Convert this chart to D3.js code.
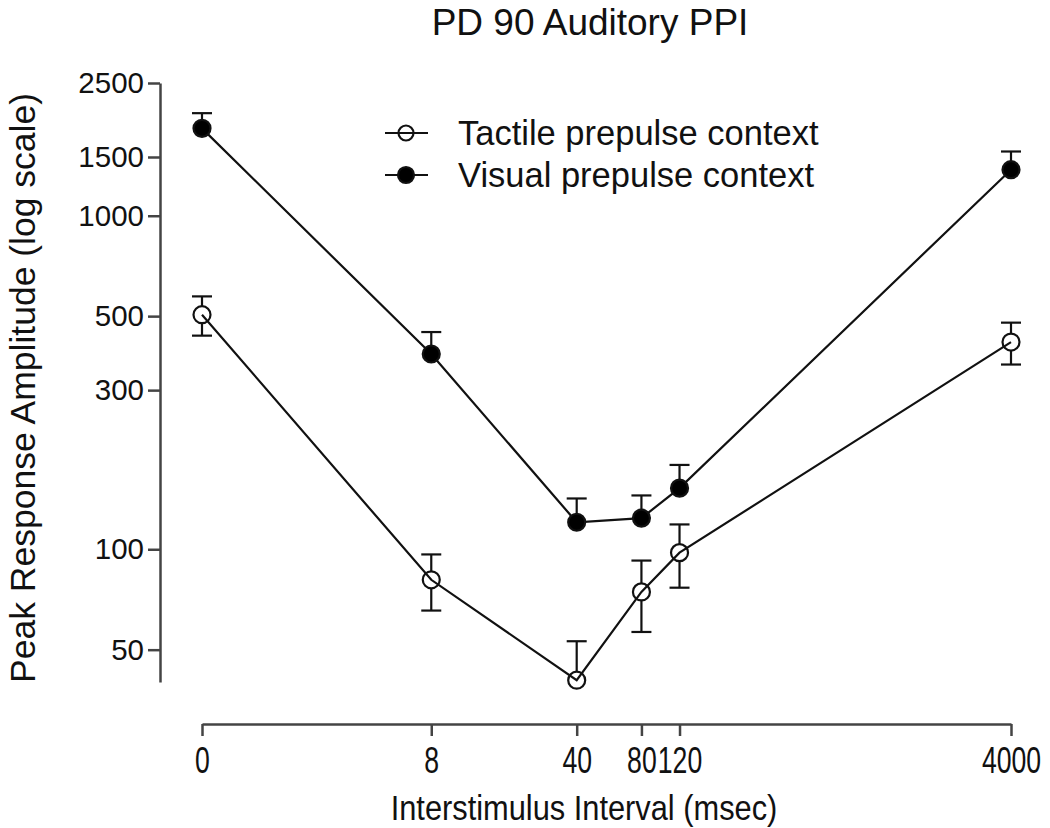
<!DOCTYPE html>
<html>
<head>
<meta charset="utf-8">
<script src="https://cdn.jsdelivr.net/npm/d3@7"></script>
<style>
  html, body { margin: 0; padding: 0; background: #fff; }
  svg { display: block; font-family: "Liberation Sans", Arial, sans-serif; }
</style>
</head>
<body>
<svg id="chart" width="1050" height="828"></svg>
<script>
// ---- data ----
const intervals = [0, 8, 40, 80, 120, 4000];
const xTickLabels = ["0", "8", "40", "80", "120", "4000"];
const yTickValues = [50, 100, 300, 500, 1000, 1500, 2500];
const tactileMean = [505, 81, 40.5, 74.5, 97.7, 418];
const tactileSEM  = [68, 15.5, 12.5, 18, 21, 60];
const visualMean  = [1828, 385, 120.5, 124, 152.5, 1374];
const visualSEM   = [202, 63, 21.5, 21, 26.5, 184];
const seriesNames = ["Tactile prepulse context", "Visual prepulse context"];

// ---- layout ----
const svg = d3.select("#chart");
const yAxisX = 160, xAxisY = 724;
const x = d3.scaleSymlog().constant(0.78).domain([0, 4000]).range([202, 1011]);
const y = d3.scaleLog().domain([40, 2500]).range([682, 83]).clamp(true);
const r = 8.5, cap = 10;

// title
svg.append("text").attr("x", 590).attr("y", 35).attr("text-anchor", "middle")
  .attr("font-size", 37).attr("fill", "#111").text("PD 90 Auditory PPI");

// y axis
const yAxis = svg.append("g").attr("transform", `translate(${yAxisX},0)`)
  .call(d3.axisLeft(y).tickValues(yTickValues).tickFormat(d3.format("d")).tickSize(12).tickSizeOuter(0).tickPadding(4));
yAxis.selectAll("text").attr("font-size", 29.5).attr("fill", "#111");
yAxis.selectAll("line,path").attr("stroke", "#444").attr("stroke-width", 2.5);

// x axis (condensed labels)
const xAxis = svg.append("g").attr("transform", `translate(0,${xAxisY})`)
  .call(d3.axisBottom(x).tickValues(intervals).tickFormat((d, i) => xTickLabels[i]).tickSize(12).tickSizeOuter(0).tickPadding(11));
xAxis.selectAll("text").attr("font-size", 37).attr("fill", "#111")
  .attr("transform", "scale(0.72,1)");
xAxis.selectAll("line,path").attr("stroke", "#444").attr("stroke-width", 2.5);

// axis titles
svg.append("text").attr("transform", "translate(584,820) scale(0.88,1)").attr("text-anchor", "middle")
  .attr("font-size", 35).attr("fill", "#111").text("Interstimulus Interval (msec)");
svg.append("text").attr("transform", "translate(35,388) rotate(-90)").attr("text-anchor", "middle")
  .attr("font-size", 35.5).attr("fill", "#111").text("Peak Response Amplitude (log scale)");

// series
const series = [
  { mean: tactileMean, sem: tactileSEM, filled: false, lower: true },
  { mean: visualMean, sem: visualSEM, filled: true, lower: false }
];
const line = d3.line().x(d => x(d.x)).y(d => y(d.y));

series.forEach(s => {
  const pts = intervals.map((iv, i) => ({ x: iv, y: s.mean[i], e: s.sem[i] }));
  const g = svg.append("g");
  g.append("path").datum(pts).attr("d", line).attr("fill", "none")
    .attr("stroke", "#111").attr("stroke-width", 2.2);
  pts.forEach(p => {
    const cx = x(p.x), cy = y(p.y), yt = y(p.y + p.e);
    if (cy - yt > r) {
      g.append("line").attr("x1", cx).attr("x2", cx).attr("y1", cy - r).attr("y2", yt)
        .attr("stroke", "#111").attr("stroke-width", 2.2);
      g.append("line").attr("x1", cx - cap).attr("x2", cx + cap).attr("y1", yt).attr("y2", yt)
        .attr("stroke", "#111").attr("stroke-width", 2.2);
    }
    if (s.lower && p.y - p.e > 40) {
      const yb = y(p.y - p.e);
      if (yb - cy > r) {
        g.append("line").attr("x1", cx).attr("x2", cx).attr("y1", cy + r).attr("y2", yb)
          .attr("stroke", "#111").attr("stroke-width", 2.2);
        g.append("line").attr("x1", cx - cap).attr("x2", cx + cap).attr("y1", yb).attr("y2", yb)
          .attr("stroke", "#111").attr("stroke-width", 2.2);
      }
    }
  });
  g.selectAll("circle").data(pts).join("circle")
    .attr("cx", d => x(d.x)).attr("cy", d => y(d.y)).attr("r", r)
    .attr("fill", s.filled ? "#000" : "none").attr("stroke", "#111").attr("stroke-width", 2.2);
});

// legend
const legend = svg.append("g");
[0, 1].forEach(i => {
  const ly = 133 + i * 42;
  legend.append("line").attr("x1", 385).attr("x2", 428).attr("y1", ly).attr("y2", ly)
    .attr("stroke", "#111").attr("stroke-width", 2.2);
  legend.append("circle").attr("cx", 406).attr("cy", ly).attr("r", i === 0 ? 7.5 : 8)
    .attr("fill", i === 0 ? "none" : "#000").attr("stroke", "#111").attr("stroke-width", 2.2);
  legend.append("text").attr("x", 458).attr("y", ly + 12).attr("font-size", 34.5)
    .attr("fill", "#111").text(seriesNames[i]);
});
</script>
</body>
</html>
